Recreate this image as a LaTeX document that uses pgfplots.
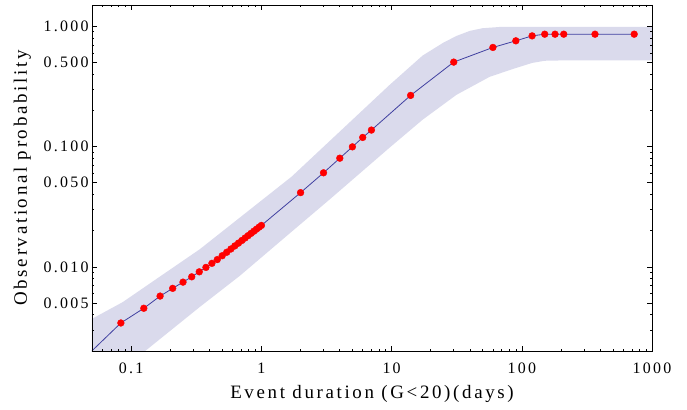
\documentclass[border=0pt]{standalone}
\usepackage{fontspec}
\setmainfont{Liberation Serif}[LetterSpace=14]
\usepackage{pgfplots}
\pgfplotsset{compat=1.18}

\definecolor{bandfill}{RGB}{218,218,236}
\definecolor{curve}{RGB}{64,64,160}

\begin{document}
\begin{tikzpicture}
\begin{axis}[
    at={(0,0)}, anchor=south west,
    scale only axis, width=560bp, height=346bp,
    xmode=log, ymode=log,
    xmin=0.05, xmax=1000, ymin=0.002, ymax=1.5,
    axis on top,
    clip marker paths=true,
    xtick={0.1,1,10,100,1000},
    xticklabels={0.1,1,10,100,1000},
    minor xtick={0.06,0.07,0.08,0.09,0.2,0.3,0.4,0.5,0.6,0.7,0.8,0.9,
                 2,3,4,5,6,7,8,9,20,30,40,50,60,70,80,90,
                 200,300,400,500,600,700,800,900},
    ytick={0.005,0.01,0.05,0.1,0.5,1},
    yticklabels={0.005,0.010,0.050,0.100,0.500,1.000},
    minor ytick={0.002,0.003,0.004,0.006,0.007,0.008,0.009,
                 0.02,0.03,0.04,0.06,0.07,0.08,0.09,
                 0.2,0.3,0.4,0.6,0.7,0.8,0.9},
    tick align=inside,
    major tick length=5bp, minor tick length=2.5bp,
    tick style={black, line width=0.6bp},
    axis line style={black, line width=0.8bp},
    ticklabel style={font=\fontsize{16}{16}\selectfont},
    xticklabel style={anchor=base, yshift=-22bp},
    label style={font=\fontsize{19}{19}\selectfont},
    xlabel={Event duration (G\textless20)(days)},
    ylabel={Observational probability},
    xlabel style={at={(axis description cs:0.5,0)}, anchor=base, yshift=-47bp},
    ylabel style={at={([xshift=-65bp]axis description cs:0,0.5)}, anchor=base},
]
% shaded band (upper edge, then lower edge back)
\addplot[fill=bandfill, draw=none] coordinates {
    (0.05,0.0037) (0.0862,0.0051) (0.166,0.0083) (0.336,0.0140)
    (1.71,0.0563) (9.65,0.325) (17.3,0.57) (25,0.73) (31.5,0.83)
    (40,0.915) (50,0.962) (67.4,0.985) (100,0.989) (1000,0.989)
    (1000,0.52) (195,0.519) (150,0.516) (120,0.495) (84.8,0.44) (56.5,0.379)
    (31.5,0.269) (17.3,0.167) (9.65,0.0979) (3.34,0.0363)
    (1.65,0.0190) (0.682,0.00842) (0.336,0.00464) (0.131,0.00204)
    (0.05,0.00089)
} -- cycle;
% curve
\addplot[curve, line width=0.8bp] coordinates {
    (0.04167,0.00166)
    (0.08333,0.00342) (0.125,0.00453) (0.1667,0.00572) (0.2083,0.00663)
    (0.25,0.00747) (0.2917,0.00827) (0.3333,0.0091) (0.375,0.0099)
    (0.4167,0.0107) (0.4583,0.0115) (0.5,0.01238) (0.5417,0.01323)
    (0.5833,0.01408) (0.625,0.01493) (0.6667,0.01575) (0.7083,0.01658)
    (0.75,0.01739) (0.7917,0.01819) (0.8333,0.01899) (0.875,0.01979)
    (0.9167,0.02057) (0.9583,0.02136) (1,0.0221)
    (2,0.0414) (3,0.0605) (4,0.080) (5,0.0994) (6,0.119) (7,0.137)
    (14,0.266) (30,0.503) (60,0.666) (90,0.756) (120,0.831)
    (150,0.858) (180,0.858) (210,0.858) (365,0.858) (730,0.858)
};
% points
\addplot[only marks, mark=*, mark size=3.4bp, red, mark options={draw=red, fill=red}] coordinates {
    (0.08333,0.00342) (0.125,0.00453) (0.1667,0.00572) (0.2083,0.00663)
    (0.25,0.00747) (0.2917,0.00827) (0.3333,0.0091) (0.375,0.0099)
    (0.4167,0.0107) (0.4583,0.0115) (0.5,0.01238) (0.5417,0.01323)
    (0.5833,0.01408) (0.625,0.01493) (0.6667,0.01575) (0.7083,0.01658)
    (0.75,0.01739) (0.7917,0.01819) (0.8333,0.01899) (0.875,0.01979)
    (0.9167,0.02057) (0.9583,0.02136) (1,0.0221)
    (2,0.0414) (3,0.0605) (4,0.080) (5,0.0994) (6,0.119) (7,0.137)
    (14,0.266) (30,0.503) (60,0.666) (90,0.756) (120,0.831)
    (150,0.858) (180,0.858) (210,0.858) (365,0.858) (730,0.858)
};
\end{axis}
\pgfresetboundingbox
\path[use as bounding box] (-92bp,-59bp) rectangle (595bp,351bp);
\end{tikzpicture}
\end{document}
